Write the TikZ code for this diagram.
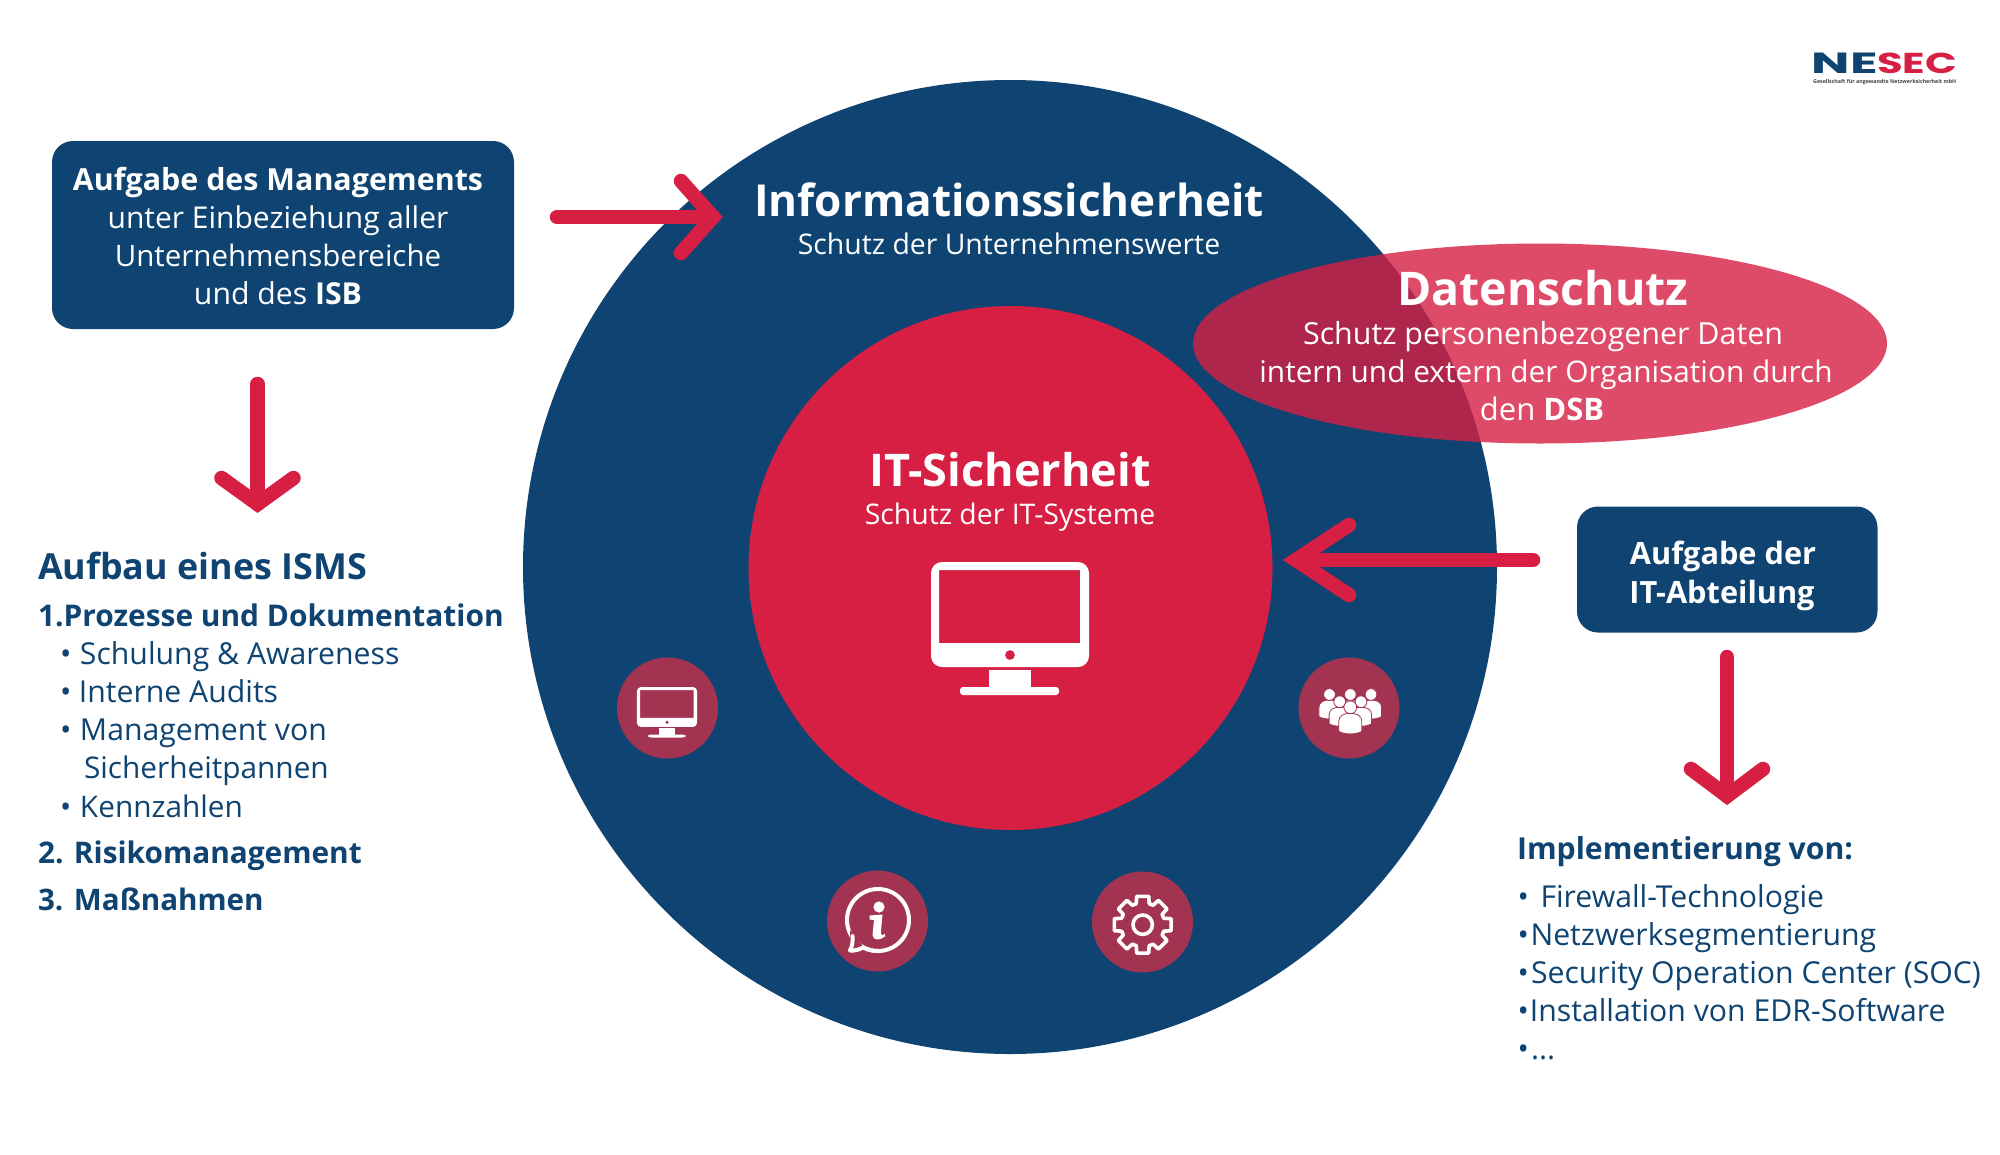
\documentclass[tikz,border=0pt]{standalone}
\usepackage{graphicx}
\usepackage{fontspec}
\setmainfont{Open Sans}
\newfontfamily\logofont{Poppins}[BoldFont={* Bold}]
\usetikzlibrary{calc,shapes.geometric}
\definecolor{navy}{HTML}{0F4472}
\definecolor{crim}{HTML}{D61F43}
\definecolor{iconbg}{HTML}{A23452}
\newcommand{\fs}[1]{\fontsize{#1}{#1}\selectfont}
\newcommand{\bul}[1]{\makebox[#1pt][l]{•}}
\tikzset{
  x=1pt,y=-1pt,
  tx/.style={inner sep=0pt,outer sep=0pt,anchor=base},
  txl/.style={inner sep=0pt,outer sep=0pt,anchor=base west},
  wht/.style={text=white},
  nvy/.style={text=navy},
  sub/.style={font=\fs{28.4}},
  body/.style={font=\fs{29.8}},
  listb/.style={font=\fs{30.2}},
  bodyb/.style={font=\fs{30.2}\bfseries},
  big/.style={font=\fs{45}\bfseries},
  headb/.style={font=\fs{35.9}\bfseries},
  panel/.style={fill=navy,rounded corners=21pt,draw=none},
  iconc/.style={circle,fill=iconbg,minimum size=101pt,inner sep=0pt,draw=none},
  barb/.style={draw=crim,line width=14.5pt,line cap=round,line join=miter,miter limit=10},
  pics/barbhead/.style args={#1/#2}{code={\draw[barb] (-#1,-#2)--(0,0)--(-#1,#2);}},
  pics/monitor/.style={code={
    \fill[white,even odd rule] [rounded corners=#1pt] (-79,0) rectangle (79,105)
      [sharp corners] (-71,8) rectangle (70,81) (0,93) circle (5);
    \fill[white] (-21,108) rectangle (21,127);
    \fill[white,rounded corners=3pt] (-50,125) rectangle (49,133);
  }},
  pics/person/.style={code={
    \filldraw[fill=white,draw=iconbg,line width=.8pt]
      (-11.5,24) -- (-11.5,14) .. controls (-11.5,8) and (-6,6) .. (0,6)
      .. controls (6,6) and (11.5,8) .. (11.5,14) -- (11.5,24)
      .. controls (6,27.5) and (-6,27.5) .. (-11.5,24) -- cycle;
    \filldraw[fill=white,draw=iconbg,line width=.8pt] (0,0) circle (6.4);
  }}
}
\begin{document}
\begin{tikzpicture}
\useasboundingbox (0,0) rectangle (2000,1154);
\fill[white] (0,0) rectangle (2000,1154);

% circles
\node[circle,fill=navy,minimum size=974pt,inner sep=0pt] (outer) at (1010,567) {};
\node[circle,fill=crim,minimum size=524pt,inner sep=0pt] (inner) at (1010.5,568) {};
\node[ellipse,fill=crim,fill opacity=.8,minimum width=694pt,minimum height=200pt,inner sep=0pt] (dsg) at (1540,343.5) {};

% boxes
\fill[panel] (52,141) rectangle (514,329);
\fill[panel] (1577,506.5) rectangle (1877.5,632.5);

% icon discs
\node[iconc] (i1) at (667.5,708) {};
\node[iconc] (i2) at (877.5,921) {};
\node[iconc] (i3) at (1142.5,922) {};
\node[iconc] (i4) at (1349,708) {};

% monitors
\pic at (1010,562) {monitor={11}};
\pic[scale=.38] at (667,687) {monitor={4}};

% info icon
\draw[white,line width=4pt] (878,920) circle (31);
\fill[iconbg] (850,930) -- (866,950) -- (850,955) -- cycle;
\draw[white,line width=4pt,line join=round,line cap=round]
  (852.5,936) .. controls (853,942) and (852,947) .. (850,950.5)
  .. controls (855,951) and (859,949.5) .. (863,947.5)
  .. controls (867,949.5) and (872,951) .. (878,951);
\fill[white] (879,907) circle (5.6);
\fill[white] (869.5,915.5) -- (882.5,914.5) -- (881,931)
  .. controls (880.5,935) and (882,936.5) .. (885,933.5) -- (885,936.5)
  .. controls (880,940.5) and (873,941) .. (872.5,935) -- (874,920) -- (869.5,919.5) -- cycle;

% gear icon
\begin{scope}[shift={(1142.7,924.7)}]
\draw[white,line width=3.6pt,line join=round]
  (-90-17:22) \foreach \a in {-90,-45,0,45,90,135,180,225} {
    -- (\a-17:22) -- (\a-12:29) -- (\a+12:29) -- (\a+17:22)
  } -- cycle;
\draw[white,line width=3.6pt] (0,0) circle (9.7);
\end{scope}

% people icon
\pic[scale=.92] at (1329.5,694.5) {person};
\pic[scale=.92] at (1371,694.5) {person};
\pic[scale=.92] at (1350.3,694.5) {person};
\pic[scale=.92] at (1339.7,701.7) {person};
\pic[scale=.92] at (1361,701.7) {person};
\pic at (1350.3,707.3) {person};

% arrows
\coordinate (a1s) at (557,217);  \coordinate (a1e) at (713,217);
\coordinate (a2s) at (257.5,384); \coordinate (a2e) at (257.5,504);
\coordinate (a3s) at (1533,560); \coordinate (a3e) at (1296,560);
\coordinate (a4s) at (1727,657); \coordinate (a4e) at (1727,796);
\draw[barb] (a1s) -- (a1e);
\pic at (a1e) {barbhead={32/36}};
\draw[barb] (a2s) -- (a2e);
\pic[rotate=-90] at (a2e) {barbhead={26/36}};
\draw[barb] (a3s) -- (a3e);
\pic[rotate=180] at (a3e) {barbhead={53/35}};
\draw[barb] (a4s) -- (a4e);
\pic[rotate=-90] at (a4e) {barbhead={27/36}};

% box 1 text
\node[tx,wht,font=\fs{30.4}\bfseries] (b11) at (278,190) {Aufgabe des Managements};
\node[tx,wht,font=\fs{30}] (b12) at (278,228.5) {unter Einbeziehung aller};
\node[tx,wht,font=\fs{29.5}] (b13) at (278,266) {Unternehmensbereiche};
\node[tx,wht,font=\fs{30.2}] (b14) at (278,304) {und des \textbf{ISB}};

% circle titles
\node[tx,wht,font=\fs{44.1}\bfseries] (t1) at (1009,216) {Informationssicherheit};
\node[tx,wht,sub] (t1s) at (1009,254.5) {Schutz der Unternehmenswerte};
\node[tx,wht,font=\fs{46.4}\bfseries] (t2) at (1543,305) {Datenschutz};
\node[tx,wht,font=\fs{30.4}] (t2a) at (1543,344) {Schutz personenbezogener Daten};
\node[tx,wht,body] (t2b) at (1546,382) {intern und extern der Organisation durch};
\node[tx,wht,font=\fs{31}] (t2c) at (1542,420) {den \textbf{DSB}};
\node[tx,wht,big] (t3) at (1010,486.5) {IT-Sicherheit};
\node[tx,wht,sub] (t3s) at (1010,524.5) {Schutz der IT-Systeme};

% box 2 text
\node[tx,wht,font=\fs{30.7}\bfseries] (b21) at (1723,564.5) {Aufgabe der};
\node[tx,wht,font=\fs{30.7}\bfseries] (b22) at (1722,603) {IT-Abteilung};

% left list
\node[txl,nvy,headb] (l0) at (38,579) {Aufbau eines ISMS};
\node[txl,nvy,font=\fs{29.9}\bfseries] (l1) at (38,626) {1.Prozesse und Dokumentation};
\node[txl,nvy,listb] (l2) at (60,664) {\bul{20}Schulung \& Awareness};
\node[txl,nvy,listb] (l3) at (60,702) {\bul{19}Interne Audits};
\node[txl,nvy,listb] (l4) at (60,740) {\bul{20}Management von};
\node[txl,nvy,font=\fs{29.8}] (l5) at (84,778) {Sicherheitpannen};
\node[txl,nvy,font=\fs{29.8}] (l6) at (60,817) {\bul{20}Kennzahlen};
\node[txl,nvy,font=\fs{29.8}\bfseries] (l7) at (38,863.5) {\makebox[36pt][l]{2.}Risikomanagement};
\node[txl,nvy,font=\fs{29.6}\bfseries] (l8) at (38,910) {\makebox[36pt][l]{3.}Maßnahmen};

% right list
\node[txl,nvy,bodyb] (r0) at (1517,859.5) {Implementierung von:};
\node[txl,nvy,listb] (r1) at (1517.5,907) {\bul{23}Firewall-Technologie};
\node[txl,nvy,listb] (r2) at (1517.5,945) {\bul{13}Netzwerksegmentierung};
\node[txl,nvy,listb] (r3) at (1517.5,983) {\bul{13.5}Security Operation Center (SOC)};
\node[txl,nvy,listb] (r4) at (1517.5,1021) {\bul{12.5}Installation von EDR-Software};
\node[txl,nvy,listb] (r5) at (1517.5,1059) {\bul{13.5}...};

% logo
\node[inner sep=0pt,anchor=north west,text=navy] (lg1) at (1811.5,53) {\resizebox{66pt}{20.5pt}{\logofont\bfseries NE}};
\node[inner sep=0pt,anchor=north west,text=crim] (lg2) at (1877,53) {\resizebox{80pt}{20.5pt}{\logofont\bfseries SEC}};
\node[inner sep=0pt,anchor=north west,text=black!75] (lg3) at (1813,79) {\resizebox{143pt}{!}{\fontsize{10}{10}\selectfont\bfseries Gesellschaft für angewandte Netzwerksicherheit mbH}};
\end{tikzpicture}
\end{document}
